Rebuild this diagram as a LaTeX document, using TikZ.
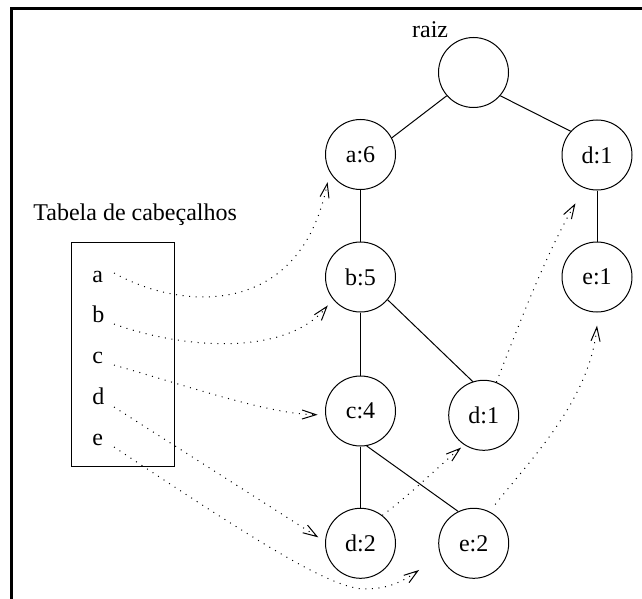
\documentclass[tikz,border=0pt]{standalone}
\usepackage{fontspec}
\setmainfont{Liberation Serif}
\usetikzlibrary{arrows.meta,calc}
\begin{document}
\begin{tikzpicture}[x=0.5pt,y=-0.5pt,
  nd/.style={circle,draw,line width=0.5pt,minimum size=35pt,inner sep=0pt,font=\fontsize{12}{14}\selectfont},
  edge/.style={line width=0.5pt},
  ptr/.style={line width=0.5pt,dash pattern=on 0.5pt off 2.8pt,-{Straight Barb[length=7pt,width=4.5pt]}},
  lbl/.style={inner sep=0pt,font=\fontsize{12}{14}\selectfont}]
\useasboundingbox (0,0) rectangle (642,599);
% frame
\draw[line width=1.5pt] (11.8,605) -- (11.8,8.3) -- (650,8.3);

% tree nodes
\node[nd] (root) at (473.5,72.5) {};
\node[lbl,anchor=base west] (raiz) at (411.7,37.3) {raiz};
\node[nd] (a6) at (360.5,154.5) {a:6};
\node[nd] (d1r) at (597,155) {d:1};
\node[nd] (b5) at (360.5,277) {b:5};
\node[nd] (e1) at (597,277) {e:1};
\node[nd] (c4) at (360.5,411) {c:4};
\node[nd] (d1m) at (483.7,415.3) {d:1};
\node[nd] (d2) at (360.5,543.3) {d:2};
\node[nd] (e2) at (473.7,543.3) {e:2};

% header table
\node[lbl,anchor=base west] (title) at (33,220.7) {Tabela de cabeçalhos};
\node[draw,line width=0.5pt,inner sep=0pt,minimum width=51.5pt,minimum height=112pt] (tab) at (122.5,354) {};
\node[lbl,anchor=base west] (ta) at (92,282) {a};
\node[lbl,anchor=base west] (tb) at (92,322.5) {b};
\node[lbl,anchor=base west] (tc) at (92,363) {c};
\node[lbl,anchor=base west] (td) at (92,404) {d};
\node[lbl,anchor=base west] (te) at (92,445) {e};
\coordinate (sa) at (114,273);
\coordinate (sb) at (114,324);
\coordinate (sc) at (114,365);
\coordinate (sd) at (114,407);
\coordinate (se) at (114,447);

% tree edges
\draw[edge] (root.221) -- (a6.28);
\draw[edge] (root.-41) -- (d1r.138);
\draw[edge] (a6.south) -- (b5.north);
\draw[edge] (d1r.south) -- (e1.north);
\draw[edge] (b5.south) -- (c4.north);
\draw[edge] (b5.-40) -- (d1m.108);
\draw[edge] (c4.south) -- (d2.north);
\draw[edge] (c4.-80) -- (e2.116);

% node links
\draw[ptr] (sa) .. controls (180,310) and (300,320) .. ($(a6)!1.21!(a6.220)$);
\draw[ptr] (sb) .. controls (180,348) and (285,358) .. ($(b5)!1.22!(b5.221)$);
\draw[ptr] (sc) .. controls (200,390) and (270,414) .. ($(c4)!1.21!(c4.185)$);
\draw[ptr] (sd) -- ($(d2)!1.2!(d2.172)$);
\draw[ptr] (se) .. controls (250,537) and (330,589) .. (365,589) .. controls (390,589) and (405,580) .. ($(e2)!1.71!(e2.206)$);
\draw[ptr] (d2.52) .. controls (410,495) and (440,465) .. ($(d1m)!1.11!(d1m.235)$);
\draw[ptr] (d1m.69) .. controls (515,335) and (545,255) .. ($(d1r)!1.49!(d1r.246)$);
\draw[ptr] ($(e2)!1.25!(e2.61)$) .. controls (530,460) and (590,400) .. ($(e1)!1.37!(e1.270)$);
\end{tikzpicture}
\end{document}
